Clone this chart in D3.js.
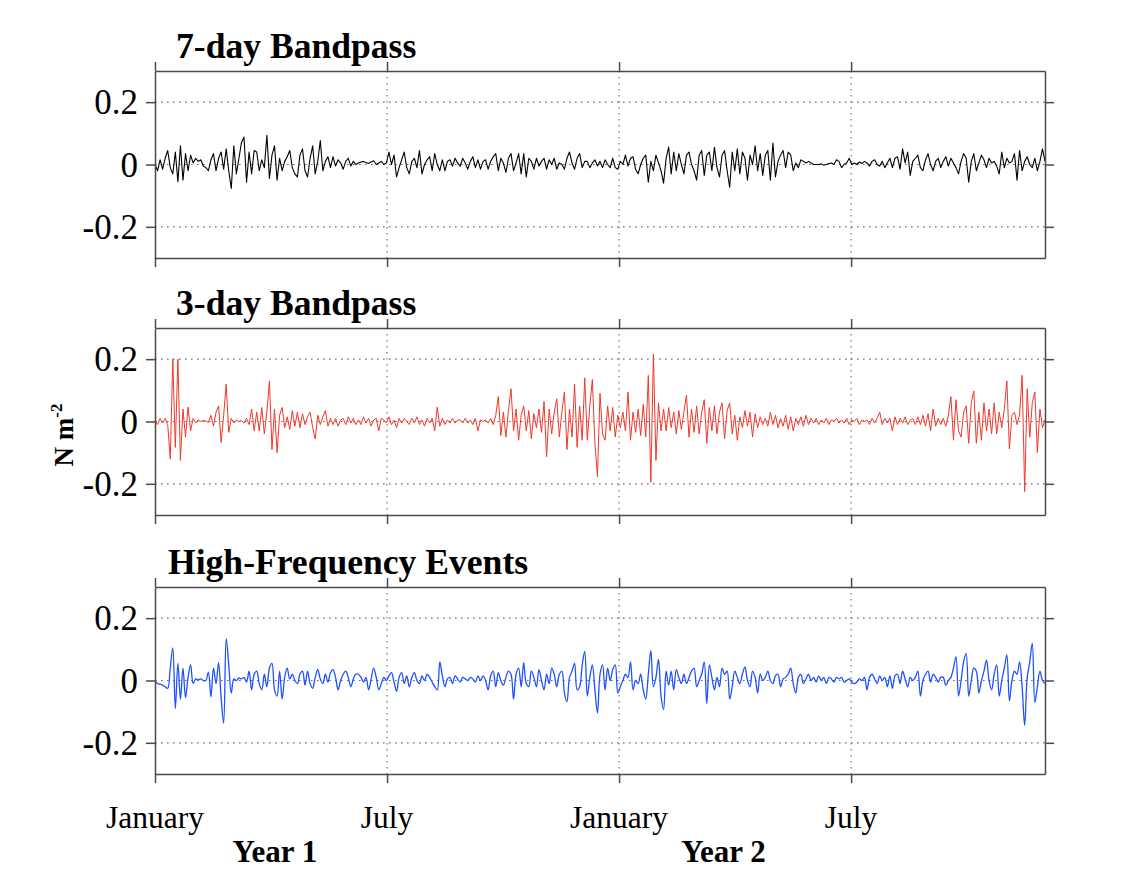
<!DOCTYPE html>
<html>
<head>
<meta charset="utf-8">
<script src="https://cdn.jsdelivr.net/npm/d3@7"></script>
<style>
  html, body { margin: 0; padding: 0; background: #fff; }
  svg { display: block; }
  text { font-family: "Liberation Serif", "Times New Roman", serif; fill: #000; }
</style>
</head>
<body>
<svg id="chart" width="1148" height="869"></svg>
<script>
// Sampling interval of the series, in days (first sample: 1 January, Year 1)
const dayStep = 2;

// Time axis: months since 1 January of Year 1
const monthTicks = [0, 6, 12, 18];
const monthLabels = ["January", "July", "January", "July"];
const yearLabels = ["Year 1", "Year 2"];

// Stress axis (N m^-2)
const yTicks = [-0.2, 0, 0.2];
const yTickLabels = ["-0.2", "0", "0.2"];

const panelTitles = ["7-day Bandpass", "3-day Bandpass", "High-Frequency Events"];

// 7-day bandpass wind stress, every 2 days
const band7 = [
  0, -.02, .015, -.015, .02, .045, -.01, -.03, .04, -.055,
  .06, -.05, .035, -.02, .03, .005, .02, .01, .015, -.005,
  -.01, -.02, .015, .035, -.02, .02, .04, -.015, .05, -.02,
  -.077, .06, -.03, .02, .07, .088, -.057, .04, -.03, .045,
  .04, -.02, .015, -.01, .094, -.045, .03, .06, -.05, .02,
  -.02, .01, .025, .045, -.01, -.03, -.04, .03, .05, -.02,
  -.04, .02, .06, -.03, .01, .077, -.02, .01, .025, -.01,
  .025, -.005, .015, .005, -.015, .01, .02, -.005, .01, 0,
  .005, .008, .01, .006, .004, .008, .012, 0, .005, .01,
  0, .005, .04, 0, .03, -.04, -.01, .015, .04, -.01,
  -.03, .01, .02, -.01, .045, -.03, 0, .015, .025, -.02,
  .035, 0, -.02, .015, -.02, .01, .015, -.005, .02, .005,
  -.005, .02, .005, -.015, .01, .025, -.01, .015, -.015, .01,
  .015, -.015, .01, .025, .035, -.02, .02, .005, -.025, .02,
  .035, -.02, .005, .035, -.03, .035, -.04, .02, .01, -.015,
  .02, -.005, .01, .02, -.015, .015, 0, .02, -.015, .005,
  0, -.015, .02, .04, .005, -.015, .02, .035, -.01, .01,
  .01, -.01, .005, .015, -.005, .01, -.01, .015, 0, -.01,
  .02, -.01, -.015, .01, 0, .03, -.005, .02, .025, -.015,
  -.03, 0, .02, .03, -.057, .01, -.02, .03, .005, -.02,
  -.06, .02, .056, -.03, .04, -.02, .035, 0, -.03, .03,
  .04, 0, -.02, -.05, .03, .045, -.035, .03, .04, -.02,
  .055, -.01, -.04, .03, .045, -.02, -.073, .04, -.02, .05,
  -.03, .04, .02, -.05, .03, 0, .06, -.02, .035, -.035,
  .03, .045, -.05, .069, -.04, .01, .03, .045, -.01, .04,
  .03, -.02, .005, -.01, .015, .01, .005, .01, .005, 0,
  0, 0, .002, -.002, 0, .003, .005, 0, .015, .01,
  -.01, 0, .005, .02, 0, .005, 0, .008, .003, .01,
  .005, -.005, .01, .015, 0, -.005, .01, -.01, .005, .02,
  -.01, .02, .025, -.015, .05, .005, .04, -.035, .01, .02,
  .03, -.01, -.02, .015, .035, 0, -.02, .01, .02, -.01,
  .01, .025, -.005, .02, .005, -.01, -.03, .01, .035, .02,
  -.057, .01, .035, -.02, .005, .03, .015, -.01, .02, .005,
  .01, -.005, -.03, .04, -.01, .02, .005, .01, .035, -.05,
  .045, -.02, .01, .025, 0, -.01, .02, -.02, .01, .05,
  .01
];

// 3-day bandpass wind stress, every 2 days
const band3 = [
  .005, -.01, .01, -.005, .01, -.01, -.12, .2, -.083, .2,
  -.125, .04, -.05, .046, -.03, .01, -.005, .005, 0, .003,
  .002, -.003, .02, -.015, .03, .05, -.067, .02, .12, -.035,
  .01, -.005, .005, 0, .003, -.005, .01, -.01, .04, -.03,
  .03, -.03, .045, -.04, .03, .13, -.09, .04, -.1, .02,
  .045, -.02, .015, -.025, .035, -.015, .03, -.02, .025, -.01,
  .015, .03, -.02, -.056, .02, -.01, .015, .035, -.015, .01,
  -.01, .01, -.015, .005, .01, -.01, .015, -.005, .01, -.01,
  .005, -.01, .015, -.005, .01, -.015, .005, .01, -.03, .01,
  .005, -.005, .015, -.01, .005, -.02, .01, -.005, .01, 0,
  -.01, .01, -.005, .015, -.01, .005, -.015, .01, -.005, .01,
  -.03, .046, -.015, .01, -.01, .005, -.005, .01, -.005, .005,
  .005, -.005, .01, -.005, .005, -.01, .01, -.03, .005, 0,
  .005, -.005, .01, -.01, .02, .08, -.045, .03, -.05, .035,
  .105, -.03, .04, -.06, .02, .05, -.03, .035, -.055, .025,
  -.02, .04, -.035, .064, -.113, .04, -.04, .03, .073, -.05,
  .03, .095, -.09, .04, -.05, .12, -.083, .05, -.06, .14,
  -.06, .05, .135, -.07, -.177, .09, -.04, -.06, .05, -.03,
  .045, -.05, .02, -.02, .03, -.03, .095, -.06, .03, -.035,
  .04, -.045, .055, -.05, .148, -.195, .216, -.125, .06, -.03,
  .04, -.03, .045, -.02, .03, -.04, .035, -.025, .03, .084,
  -.05, .04, -.035, .05, -.04, .03, .07, -.07, .045, -.03,
  .05, -.04, .03, .06, -.055, .035, .06, -.04, .02, -.06,
  .015, -.02, .035, -.015, .03, -.05, .025, -.02, .015, -.01,
  .01, -.015, .03, -.01, .02, -.02, .01, -.015, .02, -.025,
  .015, -.03, .01, -.01, .015, -.015, .02, -.01, .01, -.005,
  .01, -.01, .005, -.005, .01, -.01, .005, 0, .01, -.005,
  .005, -.005, .01, -.01, .005, 0, .01, -.01, .005, 0,
  .005, -.01, .01, -.005, .01, .03, -.01, .01, -.005, .01,
  -.03, .015, -.01, .01, -.005, .015, -.01, .005, .01, -.01,
  .015, -.01, .02, -.015, .025, -.03, .04, -.015, .01, -.01,
  .01, -.015, .02, .08, -.06, .07, -.03, -.05, .03, .05,
  -.07, .06, .098, -.07, .03, -.06, .06, -.03, .04, -.04,
  .06, -.04, .03, -.02, .04, .13, -.088, .02, .03, -.01,
  .02, .148, -.225, .105, -.05, .06, .095, -.1, .04, -.02,
  .005
];

// High-frequency event series, every 2 days
const hfEvents = [
  0, -.01, -.012, -.015, -.02, -.025, .04, .105, -.09, .055,
  -.06, .04, -.055, .01, .05, -.01, .005, .002, .005, 0,
  0, .027, -.052, .04, -.01, .057, -.055, -.137, .134, .05,
  -.04, .005, 0, .008, .005, .01, -.005, .03, -.03, .02,
  .03, -.01, -.03, .02, -.02, .04, .055, -.03, -.05, .03,
  -.06, .01, .04, .005, .02, 0, -.01, .02, .03, -.015,
  .03, -.01, -.025, .01, .035, .005, -.01, .02, -.005, .025,
  .035, .01, -.03, 0, .02, .03, .01, -.02, .005, .02,
  .02, .01, -.005, .01, -.03, .005, .04, .01, -.03, -.01,
  .01, 0, .015, .025, -.005, -.035, .01, .025, -.01, .015,
  -.02, .01, .025, 0, -.01, .015, 0, .02, .01, -.005,
  -.02, -.03, .06, .015, -.02, .005, .01, -.01, .015, .005,
  -.005, .01, .005, 0, .01, .005, -.005, .015, 0, .015,
  0, -.03, .015, .03, -.02, .025, 0, -.015, .01, .03,
  .02, -.06, .02, .04, -.02, .057, -.01, -.02, .03, .01,
  -.02, .035, 0, -.03, .02, -.01, .04, .02, -.02, .02,
  .03, -.04, -.068, .01, .03, .055, -.03, -.02, .05, .093,
  -.05, .01, .05, -.03, -.104, .02, .05, -.03, .04, 0,
  .035, .05, -.04, -.02, 0, .02, .01, .06, -.03, 0,
  -.01, .02, -.03, -.06, .02, .096, -.02, .01, .068, -.05,
  -.093, .03, -.015, .03, -.03, .035, .01, -.01, .02, -.01,
  .01, .03, .04, -.02, 0, .02, .06, -.074, .05, .01,
  -.03, .01, -.02, .04, .02, .03, -.06, -.02, .03, .01,
  -.01, .02, .044, 0, -.02, .03, .01, -.04, .02, 0,
  .01, .03, 0, -.01, .015, .02, -.02, .005, .01, .02,
  .04, -.01, -.04, .01, .02, -.01, .005, .02, 0, .01,
  -.005, .015, 0, .01, -.01, .01, .005, -.005, .01, .005,
  .01, -.005, 0, .005, -.005, -.01, -.005, .005, 0, .01,
  -.03, .01, .02, .005, -.01, .015, 0, .01, -.02, .015,
  -.025, .015, .02, -.01, .03, .005, -.02, .01, 0, .01,
  .03, -.05, 0, .02, .03, -.005, .02, .01, -.005, .01,
  .01, -.015, 0, .01, .04, .076, -.05, 0, .06, .087,
  -.05, 0, .04, .03, -.04, 0, .03, .065, 0, -.03,
  .02, .05, -.05, 0, .04, .082, -.065, 0, .03, .02,
  .06, -.02, -.144, .01, .06, .12, -.07, -.02, .03, 0,
  -.01
];

const daysPerMonth = 365 / 12;
const series = [
  { values: band7, color: "#000000", width: 1.1, curve: d3.curveLinear },
  { values: band3, color: "#f2372b", width: 1.0, curve: d3.curveLinear },
  { values: hfEvents, color: "#1f50ff", width: 1.3, curve: d3.curveCatmullRom.alpha(0.5) }
];

const svg = d3.select("#chart");
const left = 155, right = 1045;
const panelTops = [71, 328, 587];
const panelH = 187;
const axisColor = "#4a4a4a";
const gridColor = "#6a6a6a";

const nPoints = band7.length;
const x = d3.scaleLinear()
  .domain([0, (nPoints - 1) * dayStep / daysPerMonth])
  .range([left, right]);

series.forEach((s, p) => {
  const top = panelTops[p];
  const y = d3.scaleLinear().domain([-0.3, 0.3]).range([top + panelH, top]);
  const g = svg.append("g");

  // dotted grid
  const grid = g.append("g")
    .attr("stroke", gridColor)
    .attr("stroke-width", 1.1)
    .attr("stroke-dasharray", "1.6,4.4");
  grid.selectAll("line.h").data(yTicks).join("line")
    .attr("x1", left).attr("x2", right)
    .attr("y1", d => y(d)).attr("y2", d => y(d));
  grid.selectAll("line.v").data(monthTicks.slice(1)).join("line")
    .attr("x1", d => x(d)).attr("x2", d => x(d))
    .attr("y1", top).attr("y2", top + panelH);

  // series line
  const line = d3.line()
    .x((d, i) => x(i * dayStep / daysPerMonth))
    .y(d => y(d))
    .curve(s.curve);
  g.append("path")
    .datum(s.values)
    .attr("fill", "none")
    .attr("stroke", s.color)
    .attr("stroke-width", s.width)
    .attr("stroke-linejoin", "round")
    .attr("d", line);

  // frame with outward ticks on all four sides
  const tick = 9;
  const axL = d3.axisLeft(y).tickValues(yTicks).tickSize(tick).tickSizeOuter(0).tickFormat((d, i) => yTickLabels[i]).tickPadding(8);
  const axR = d3.axisRight(y).tickValues(yTicks).tickSize(tick).tickSizeOuter(0).tickFormat("");
  const axT = d3.axisTop(x).tickValues(monthTicks).tickSize(tick).tickSizeOuter(0).tickFormat("");
  const axB = d3.axisBottom(x).tickValues(monthTicks).tickSize(tick).tickSizeOuter(0).tickFormat("");

  const gl = g.append("g").attr("transform", `translate(${left},0)`).call(axL);
  const gr = g.append("g").attr("transform", `translate(${right},0)`).call(axR);
  const gt = g.append("g").attr("transform", `translate(0,${top})`).call(axT);
  const gb = g.append("g").attr("transform", `translate(0,${top + panelH})`).call(axB);
  [gl, gr, gt, gb].forEach(a => {
    a.selectAll("path.domain").attr("stroke", axisColor).attr("stroke-width", 1.5);
    a.selectAll(".tick line").attr("stroke", axisColor).attr("stroke-width", 1.5);
  });
  gl.selectAll(".tick text")
    .attr("font-family", "Liberation Serif, serif")
    .attr("font-size", 35)
    .attr("fill", "#000")
    .attr("dy", "0.33em");

  // panel title
  svg.append("text")
    .attr("x", p === 2 ? 168 : 176)
    .attr("y", top - 13)
    .attr("font-size", 35.6)
    .attr("font-weight", "bold")
    .text(panelTitles[p]);
});

// month labels under the last panel
const lastBottom = panelTops[2] + panelH;
svg.append("g").selectAll("text").data(monthTicks).join("text")
  .attr("x", d => x(d))
  .attr("y", lastBottom + 54)
  .attr("text-anchor", "middle")
  .attr("font-size", 31.5)
  .text((d, i) => monthLabels[i]);

// year labels
const yearPos = [3.1, 14.7];
svg.append("g").selectAll("text").data(yearLabels).join("text")
  .attr("x", (d, i) => x(yearPos[i]))
  .attr("y", lastBottom + 88)
  .attr("text-anchor", "middle")
  .attr("font-size", 31)
  .attr("font-weight", "bold")
  .text(d => d);

// shared unit label
const yl = svg.append("text")
  .attr("transform", "translate(73,435) rotate(-90)")
  .attr("text-anchor", "middle")
  .attr("font-size", 27)
  .attr("font-weight", "bold");
yl.append("tspan").text("N m");
yl.append("tspan").attr("font-size", 17).attr("dy", -11).text("-2");
</script>
</body>
</html>
